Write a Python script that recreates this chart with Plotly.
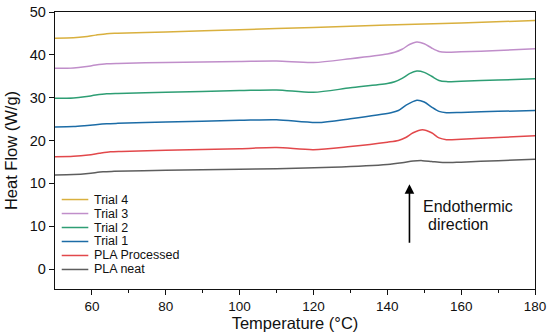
import plotly.graph_objects as go

# ---- data ----
series_names = ["Trial 4", "Trial 3", "Trial 2", "Trial 1", "PLA Processed", "PLA neat"]
series_colors = ["#D9B03E", "#C08ECA", "#2E9E74", "#1C6CA6", "#E2484B", "#5E5E5E"]

t4_T = [50, 55, 58, 61, 64, 67, 80, 100, 120, 140, 160, 180]
t4_v = [43.9, 44.0, 44.2, 44.6, 44.95, 45.05, 45.35, 45.85, 46.4, 46.95, 47.45, 48.0]

t3_T = [50, 55, 58, 61, 64, 67, 80, 100, 110, 120, 130, 140, 142, 144, 146, 148, 150, 152, 154, 156, 160, 170, 180]
t3_v = [36.85, 36.95, 37.2, 37.6, 37.9, 38.0, 38.2, 38.45, 38.55, 38.2, 39.1, 40.2, 40.6, 41.3, 42.4, 43.0, 42.6, 41.6, 40.8, 40.6, 40.7, 41.0, 41.4]

t2_T = [50, 55, 58, 61, 64, 67, 80, 100, 110, 120, 130, 140, 142, 144, 146, 148, 150, 152, 154, 156, 160, 170, 180]
t2_v = [29.85, 29.95, 30.2, 30.6, 30.9, 31.0, 31.25, 31.65, 31.8, 31.25, 32.3, 33.3, 33.7, 34.5, 35.6, 36.2, 35.9, 35.0, 34.0, 33.75, 33.85, 34.1, 34.4]

t1_T = [50, 55, 58, 61, 64, 67, 80, 100, 110, 121, 130, 141, 143, 145, 148, 150, 152, 154, 156, 160, 170, 180]
t1_v = [23.15, 23.25, 23.45, 23.7, 23.9, 24.0, 24.3, 24.7, 24.85, 24.2, 25.1, 26.5, 27.0, 28.2, 29.4, 29.0, 27.8, 26.8, 26.5, 26.55, 26.8, 27.0]

pp_T = [50, 55, 59, 62, 65, 68, 80, 100, 110, 120, 130, 140, 143, 145, 147, 149.5, 152, 154, 156, 160, 170, 180]
pp_v = [16.2, 16.3, 16.6, 17.0, 17.35, 17.45, 17.7, 18.1, 18.35, 17.85, 18.6, 19.6, 20.0, 20.7, 21.8, 22.5, 21.8, 20.6, 20.2, 20.3, 20.7, 21.1]

pn_T = [50, 55, 59, 63, 66, 80, 100, 110, 125, 140, 144, 147, 149.5, 152, 155, 160, 170, 180]
pn_v = [11.95, 12.05, 12.3, 12.7, 12.8, 13.05, 13.3, 13.4, 13.75, 14.4, 14.8, 15.2, 15.3, 15.1, 14.85, 14.95, 15.3, 15.6]

series_T = [t4_T, t3_T, t2_T, t1_T, pp_T, pn_T]
series_v = [t4_v, t3_v, t2_v, t1_v, pp_v, pn_v]

y_tickvals = [-10, 0, 10, 20, 30, 40, 50]
y_ticktext = ["0", "10", "10", "20", "30", "40", "50"]
x_tickvals = [60, 80, 100, 120, 140, 160, 180]

FONT = "Arial, Liberation Sans, Helvetica, sans-serif"

fig = go.Figure()
for name, color, T, v in zip(series_names, series_colors, series_T, series_v):
    fig.add_trace(go.Scatter(
        x=T, y=v, mode="lines", name=name,
        line=dict(color=color, width=1.5, shape="spline", smoothing=0.8),
        showlegend=False,
    ))

# custom compact legend (built from the series lists)
leg_x0, leg_x1, leg_tx = 0.014, 0.0694, 0.077
leg_y0, leg_dy = 0.323, 0.0505
for i, (name, color) in enumerate(zip(series_names, series_colors)):
    yy = leg_y0 - i * leg_dy
    fig.add_shape(type="line", xref="paper", yref="paper",
                  x0=leg_x0, x1=leg_x1, y0=yy, y1=yy,
                  line=dict(color=color, width=1.5))
    fig.add_annotation(xref="paper", yref="paper", x=leg_tx, y=yy,
                       text=name, showarrow=False, xanchor="left", yanchor="middle",
                       font=dict(family=FONT, size=12.5, color="#111"))

# endothermic arrow
fig.add_annotation(x=146, y=9.8, ax=146, ay=-4.2, axref="x", ayref="y",
                   xref="x", yref="y", text="", showarrow=True,
                   arrowhead=2, arrowsize=1.2, arrowwidth=1.6, arrowcolor="#000")
fig.add_annotation(x=149.2, y=4.7, xref="x", yref="y", text="Endothermic",
                   showarrow=False, xanchor="left", yanchor="middle",
                   font=dict(family=FONT, size=16, color="#111"))
fig.add_annotation(x=150.6, y=0.3, xref="x", yref="y", text="direction",
                   showarrow=False, xanchor="left", yanchor="middle",
                   font=dict(family=FONT, size=16, color="#111"))

fig.update_layout(
    width=550, height=334,
    margin=dict(l=55, r=15, t=12, b=45),
    paper_bgcolor="white", plot_bgcolor="white",
    font=dict(family=FONT, color="#111"),
    showlegend=False,
)
fig.update_xaxes(
    range=[50, 180], tickvals=x_tickvals, ticks="outside", ticklen=5, tickwidth=1.2,
    tickcolor="#111", showline=True, linecolor="#111", linewidth=1.3, mirror=True,
    showgrid=False, zeroline=False, tickfont=dict(size=13.5, family=FONT),
    automargin=False,
    minor=dict(tickvals=[70, 90, 110, 130, 150, 170], ticks="outside", ticklen=3, tickcolor="#111"),
    title=dict(text="Temperature (°C)", font=dict(size=16.5, family=FONT), standoff=4),
)
fig.update_yaxes(
    range=[-14.67, 50], tickvals=y_tickvals, ticktext=y_ticktext, ticks="outside",
    ticklen=5, tickwidth=1.2, tickcolor="#111", showline=True, linecolor="#111",
    linewidth=1.3, mirror=True, showgrid=False, zeroline=False, automargin=False,
    tickfont=dict(size=14.5, family=FONT),
    title=dict(text="Heat Flow (W/g)", font=dict(size=16.5, family=FONT), standoff=8),
)

fig.write_html("out.html", config={"displayModeBar": False},
               post_script="document.body.style.margin='0';")
